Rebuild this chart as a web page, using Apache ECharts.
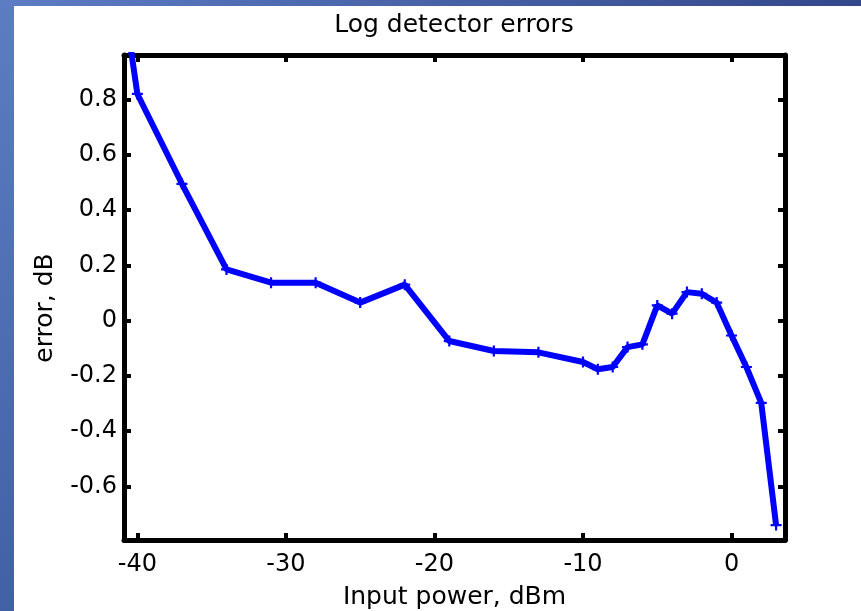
<!DOCTYPE html>
<html>
<head>
<meta charset="utf-8">
<script src="https://cdn.jsdelivr.net/npm/echarts@6/dist/echarts.min.js"></script>
<style>
html,body{margin:0;padding:0;width:861px;height:611px;overflow:hidden;background:#fff;}
</style>
</head>
<body>
<div style="position:absolute;left:0;top:0;width:861px;height:6px;background:linear-gradient(to right,#5c7cc4,#33488a)"></div>
<div style="position:absolute;left:0;top:0;width:14px;height:611px;background:linear-gradient(to bottom,#5c7cc4,#4260a8)"></div>
<div id="chart" style="position:absolute;left:14px;top:6px;width:847px;height:605px;background:#fff"></div>
<script>
// Data
const inputPower = [-41, -40, -37, -34, -31, -28, -25, -22, -19, -16, -13, -10, -9, -8, -7, -6, -5, -4, -3, -2, -1, 0, 1, 2, 3];
const errorDb = [1.19, 0.82, 0.495, 0.185, 0.137, 0.137, 0.065, 0.13, -0.074, -0.11, -0.115, -0.15, -0.176, -0.168, -0.096, -0.086, 0.055, 0.025, 0.103, 0.097, 0.065, -0.054, -0.168, -0.298, -0.74];
const xTicks = [-40, -30, -20, -10, 0];
const yTicks = [-0.6, -0.4, -0.2, 0, 0.2, 0.4, 0.6, 0.8];
const titleText = 'Log detector errors';
const xName = 'Input power, dBm';
const yName = 'error, dB';

const chart = echarts.init(document.getElementById('chart'));
const font = 'DejaVu Sans';
const lineS = {color: '#000', width: 5};
const tickS = {show: true, inside: true, length: 7, lineStyle: {color: '#000', width: 4}};
function xAx(pos, labels) {
  return {
    type: 'value', position: pos, min: -40.9, max: 3.6,
    splitLine: {show: false},
    axisLine: {show: true, onZero: false, lineStyle: lineS},
    axisTick: Object.assign({customValues: xTicks}, tickS),
    axisLabel: {show: labels, customValues: xTicks, margin: 13, color: '#000', fontFamily: font, fontSize: 24,
      formatter: v => String(v)},
    name: labels ? xName : '', nameLocation: 'middle', nameGap: 45,
    nameTextStyle: {color: '#000', fontFamily: font, fontSize: 25}
  };
}
function yAx(pos, labels) {
  return {
    type: 'value', position: pos, min: -0.794, max: 0.961,
    splitLine: {show: false},
    axisLine: {show: true, onZero: false, lineStyle: lineS},
    axisTick: Object.assign({customValues: yTicks}, tickS),
    axisLabel: {show: labels, customValues: yTicks, margin: 7, color: '#000', fontFamily: font, fontSize: 24,
      formatter: v => String(Math.round(v * 10) / 10)},
    name: ''
  };
}
chart.setOption({
  animation: false,
  backgroundColor: '#fff',
  grid: {left: 110, top: 49, width: 661, height: 485, containLabel: false, outerBoundsMode: 'none'},
  graphic: [{
    type: 'text', x: 440, y: 7,
    style: {text: titleText, fill: '#000', font: '25px "DejaVu Sans"', textAlign: 'center', textVerticalAlign: 'top'}
  }, {
    type: 'text', x: 31, y: 302, rotation: Math.PI / 2,
    style: {text: yName, fill: '#000', font: '25px "DejaVu Sans"', textAlign: 'center', textVerticalAlign: 'middle'}
  }],
  xAxis: [xAx('bottom', true), xAx('top', false)],
  yAxis: [yAx('left', true), yAx('right', false)],
  series: [{
    type: 'line',
    xAxisIndex: 0, yAxisIndex: 0,
    data: inputPower.map((x, i) => [x, errorDb[i]]),
    clip: true,
    lineStyle: {color: '#0000ff', width: 6},
    itemStyle: {color: '#0000ff'},
    symbol: 'path://M4,0h2v4h4v2h-4v4h-2v-4h-4v-2h4z',
    symbolSize: 11,
    showSymbol: true
  }]
});
</script>
</body>
</html>
